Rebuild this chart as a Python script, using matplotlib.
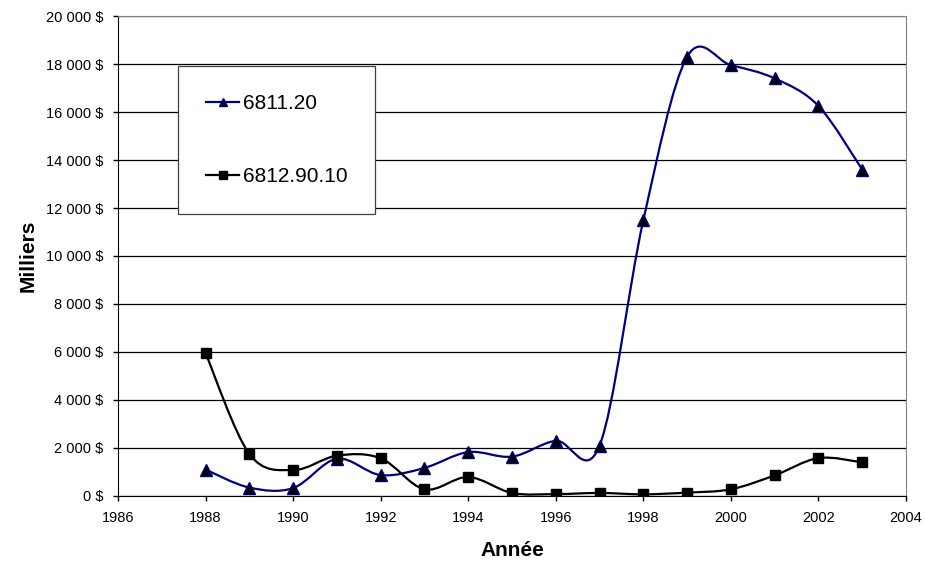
import numpy as np
import matplotlib
matplotlib.use("Agg")
import matplotlib.pyplot as plt
from matplotlib.path import Path
from matplotlib.patches import PathPatch
from matplotlib.lines import Line2D
from matplotlib.ticker import FuncFormatter, MultipleLocator

plt.rcParams["font.family"] = ["Liberation Sans", "DejaVu Sans"]

# Data (milliers de $)
years = [1988, 1989, 1990, 1991, 1992, 1993, 1994, 1995,
         1996, 1997, 1998, 1999, 2000, 2001, 2002, 2003]
s_6811_20 = [1100, 350, 330, 1550, 870, 1170, 1830, 1640,
             2300, 2100, 11500, 18300, 17950, 17400, 16250, 13600]
s_6812_90_10 = [5950, 1750, 1080, 1680, 1570, 280, 790, 125,
                80, 125, 70, 140, 280, 860, 1580, 1400]


def smooth_path(x, y):
    # Excel-like smoothed line: Catmull-Rom as cubic Bezier segments
    pts = np.column_stack([x, y]).astype(float)
    n = len(pts)
    verts = [pts[0]]
    codes = [Path.MOVETO]
    for i in range(n - 1):
        p0 = pts[i - 1] if i > 0 else pts[i]
        p1 = pts[i]
        p2 = pts[i + 1]
        p3 = pts[i + 2] if i + 2 < n else pts[i + 1]
        c1 = p1 + (p2 - p0) / 6.0
        c2 = p2 - (p3 - p1) / 6.0
        verts += [c1, c2, p2]
        codes += [Path.CURVE4] * 3
    return Path(verts, codes)


fig = plt.figure(figsize=(9.25, 5.64), dpi=100)
ax = fig.add_axes([0.1276, 0.1206, 0.8519, 0.851])

ax.set_xlim(1986, 2004)
ax.set_ylim(0, 20000)
ax.xaxis.set_major_locator(MultipleLocator(2))
ax.yaxis.set_major_locator(MultipleLocator(2000))
ax.yaxis.set_major_formatter(FuncFormatter(lambda v, p: f"{int(v):,}".replace(",", " ") + " $"))
ax.grid(axis="y", color="black", linewidth=0.9)
ax.set_axisbelow(True)

for sp in ["top", "right"]:
    ax.spines[sp].set_color("#808080")
for sp in ["left", "bottom"]:
    ax.spines[sp].set_color("black")

ax.tick_params(axis="both", direction="out", length=3.5, width=1, labelsize=10.5,
               color="black", pad=7)

navy = "#000080"
ax.add_patch(PathPatch(smooth_path(years, s_6811_20), fill=False, edgecolor=navy, linewidth=1.6, zorder=3))
ax.plot(years, s_6811_20, linestyle="none", marker="^", markersize=8,
        markerfacecolor="black", markeredgecolor=navy, zorder=4)
ax.add_patch(PathPatch(smooth_path(years, s_6812_90_10), fill=False, edgecolor="black", linewidth=1.6, zorder=3))
ax.plot(years, s_6812_90_10, linestyle="none", marker="s", markersize=7.5,
        markerfacecolor="black", markeredgecolor="black", zorder=4)

ax.set_xlabel("Année", fontsize=15, fontweight="bold", labelpad=12)
ax.set_ylabel("Milliers", fontsize=15, fontweight="bold", labelpad=6)

handles = [
    Line2D([], [], color=navy, linewidth=1.6, marker="^", markersize=6,
           markerfacecolor="black", markeredgecolor=navy),
    Line2D([], [], color="black", linewidth=1.6, marker="s", markersize=5.5,
           markerfacecolor="black"),
]
leg = ax.legend(handles, ["6811.20", "6812.90.10"], loc="upper left",
                bbox_to_anchor=(0.0761, 0.8958), fontsize=15, frameon=True,
                fancybox=False, edgecolor="#404040", framealpha=1,
                labelspacing=2.58, borderpad=1.35, handlelength=1.6,
                handletextpad=0.15, borderaxespad=0)
leg.get_frame().set_linewidth(0.9)

fig.savefig("out.png", dpi=100)
